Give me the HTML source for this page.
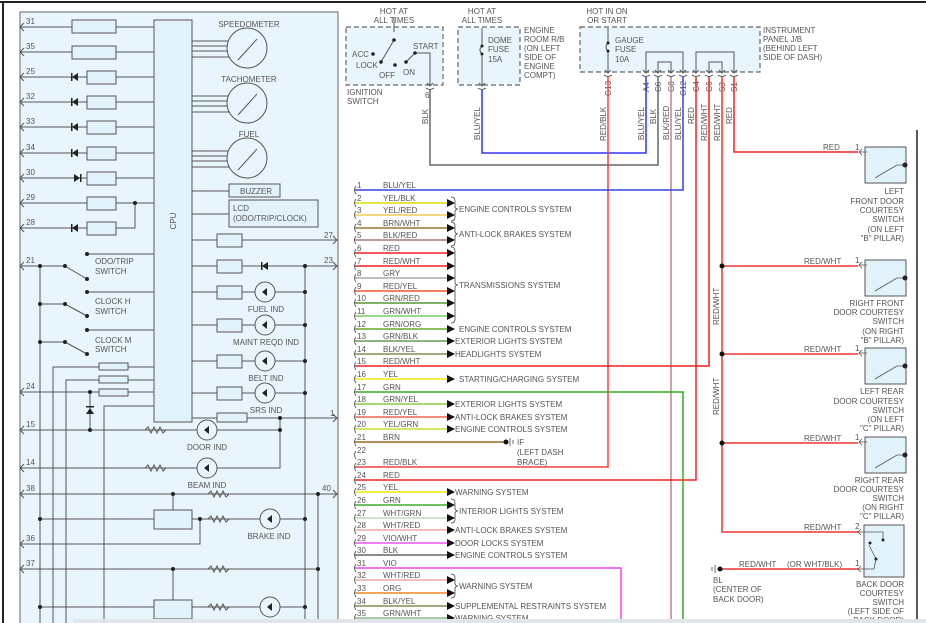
<!DOCTYPE html>
<html><head><meta charset="utf-8"><style>
html,body{margin:0;padding:0;background:#fff;}
svg{display:block;font-family:"Liberation Sans",sans-serif;}
text{font-size:8px;fill:#555;}
</style></head><body>
<svg width="926" height="623" viewBox="0 0 926 623" xmlns="http://www.w3.org/2000/svg">
<!-- borders -->
<line x1="0" y1="2" x2="926" y2="2" stroke="#222" stroke-width="2"/>
<line x1="3" y1="2" x2="3" y2="623" stroke="#222" stroke-width="2"/>
<line x1="917" y1="130" x2="917" y2="623" stroke="#222" stroke-width="1.5"/>
<rect x="20" y="12" width="318" height="615" fill="#e9f5fc" stroke="#666" stroke-width="1"/>

<g stroke="#555" stroke-width="1" fill="none">
<!-- CPU -->
<rect x="154" y="20" width="38" height="402" fill="#e2f2fb"/>
<!-- left rows -->
<line x1="20" y1="27" x2="154" y2="27"/><rect x="72" y="20" width="44" height="13" fill="#e2f2fb"/>
<line x1="20" y1="52" x2="154" y2="52"/><rect x="72" y="46" width="44" height="13" fill="#e2f2fb"/>
<line x1="20" y1="77" x2="154" y2="77"/><rect x="87" y="71" width="29" height="13" fill="#e2f2fb"/>
<line x1="20" y1="102" x2="154" y2="102"/><rect x="87" y="96" width="29" height="13" fill="#e2f2fb"/>
<line x1="20" y1="127" x2="154" y2="127"/><rect x="87" y="121" width="29" height="13" fill="#e2f2fb"/>
<line x1="20" y1="153" x2="154" y2="153"/><rect x="87" y="147" width="29" height="13" fill="#e2f2fb"/>
<line x1="20" y1="178" x2="154" y2="178"/><rect x="87" y="172" width="29" height="13" fill="#e2f2fb"/>
<line x1="20" y1="203" x2="154" y2="203"/><rect x="87" y="197" width="29" height="13" fill="#e2f2fb"/>
<line x1="20" y1="228" x2="87" y2="228"/><rect x="87" y="222" width="29" height="13" fill="#e2f2fb"/>
<polyline points="116,228 135,228 135,203"/>
<!-- gauges -->
<line x1="192" y1="41" x2="230" y2="41"/><line x1="192" y1="46" x2="228" y2="46"/><line x1="192" y1="51" x2="228" y2="51"/><line x1="192" y1="57" x2="230" y2="57"/>
<circle cx="247" cy="48" r="20" fill="#e9f5fc"/><line x1="238" y1="60" x2="257" y2="39"/>
<line x1="192" y1="96" x2="230" y2="96"/><line x1="192" y1="101" x2="228" y2="101"/><line x1="192" y1="106" x2="228" y2="106"/><line x1="192" y1="112" x2="230" y2="112"/>
<circle cx="247" cy="103" r="20" fill="#e9f5fc"/><line x1="238" y1="115" x2="257" y2="94"/>
<line x1="192" y1="151" x2="230" y2="151"/><line x1="192" y1="156" x2="228" y2="156"/><line x1="192" y1="161" x2="228" y2="161"/><line x1="192" y1="167" x2="230" y2="167"/>
<circle cx="247" cy="158" r="20" fill="#e9f5fc"/><line x1="238" y1="170" x2="257" y2="149"/>
<line x1="192" y1="191" x2="229" y2="191"/><rect x="229" y="184" width="51" height="13" fill="#e2f2fb"/>
<line x1="192" y1="214" x2="229" y2="214"/><rect x="229" y="200" width="89" height="27" fill="#e2f2fb"/>
<!-- right rows -->
<line x1="192" y1="240" x2="337" y2="240"/><rect x="217" y="234" width="25" height="13" fill="#e2f2fb"/>
<line x1="192" y1="266" x2="337" y2="266"/><rect x="217" y="260" width="25" height="13" fill="#e2f2fb"/>
<line x1="192" y1="292" x2="305" y2="292"/><rect x="217" y="286" width="25" height="13" fill="#e2f2fb"/><circle cx="265" cy="292" r="10" fill="#e9f5fc"/>
<line x1="192" y1="325" x2="305" y2="325"/><rect x="217" y="319" width="25" height="13" fill="#e2f2fb"/><circle cx="265" cy="325" r="10" fill="#e9f5fc"/>
<line x1="192" y1="361" x2="305" y2="361"/><rect x="217" y="355" width="25" height="13" fill="#e2f2fb"/><circle cx="265" cy="361" r="10" fill="#e9f5fc"/>
<line x1="192" y1="393" x2="305" y2="393"/><rect x="217" y="387" width="25" height="13" fill="#e2f2fb"/><circle cx="265" cy="393" r="10" fill="#e9f5fc"/>
<line x1="305" y1="266" x2="305" y2="623"/>
<line x1="192" y1="418" x2="337" y2="418"/><rect x="217" y="413" width="30" height="9" fill="#e2f2fb"/>
<polyline points="280,418 280,468 20,468"/>
<line x1="20" y1="430" x2="280" y2="430"/>
<circle cx="207" cy="430" r="10" fill="#e9f5fc"/><circle cx="207" cy="468" r="10" fill="#e9f5fc"/>
<line x1="20" y1="494" x2="337" y2="494"/>
<line x1="318" y1="494" x2="318" y2="623"/>
<line x1="173" y1="494" x2="173" y2="510"/>
<rect x="154" y="510" width="38" height="19" fill="#e2f2fb"/>
<line x1="40" y1="519" x2="154" y2="519"/><line x1="192" y1="519" x2="305" y2="519"/>
<circle cx="270" cy="519" r="10" fill="#e9f5fc"/>
<polyline points="20,544 200,544 200,519"/>
<line x1="20" y1="569" x2="318" y2="569"/>
<line x1="173" y1="569" x2="173" y2="600"/>
<rect x="154" y="600" width="38" height="19" fill="#e2f2fb"/>
<line x1="40" y1="607" x2="154" y2="607"/><line x1="192" y1="607" x2="305" y2="607"/>
<circle cx="270" cy="607" r="10" fill="#e9f5fc"/>
<!-- switches left -->
<line x1="20" y1="266" x2="65" y2="266"/><line x1="40" y1="266" x2="40" y2="623"/>
<line x1="87" y1="254" x2="154" y2="254"/><line x1="65" y1="266" x2="87" y2="279"/>
<line x1="40" y1="304" x2="65" y2="304"/><line x1="87" y1="292" x2="154" y2="292"/><line x1="65" y1="304" x2="87" y2="316"/>
<line x1="40" y1="342" x2="65" y2="342"/><line x1="87" y1="330" x2="154" y2="330"/><line x1="65" y1="342" x2="87" y2="354"/>
<polyline points="53,623 53,367 154,367"/><rect x="99" y="363" width="29" height="7" fill="#e2f2fb"/>
<polyline points="66,623 66,380 154,380"/><rect x="99" y="376" width="29" height="7" fill="#e2f2fb"/>
<line x1="20" y1="392" x2="154" y2="392"/><rect x="99" y="389" width="29" height="7" fill="#e2f2fb"/>
<polyline points="104,623 104,406 154,406"/>
<line x1="90" y1="392" x2="90" y2="430"/>
<!-- resistors -->
<polyline points="145,430 148,427 151,433 154,427 157,433 160,427 163,433 166,430"/>
<polyline points="145,468 148,465 151,471 154,465 157,471 160,465 163,471 166,468"/>
<polyline points="208,494 211,491 214,497 217,491 220,497 223,491 226,497 229,494"/>
<polyline points="208,519 211,516 214,522 217,516 220,522 223,516 226,522 229,519"/>
<polyline points="208,569 211,566 214,572 217,566 220,572 223,566 226,572 229,569"/>
<polyline points="208,607 211,604 214,610 217,604 220,610 223,604 226,610 229,607"/>
<!-- arrows on left -->
<path d="M24,23 L20,27 L24,31 M24,48 L20,52 L24,56 M24,73 L20,77 L24,81 M24,98 L20,102 L24,106 M24,123 L20,127 L24,131 M24,149 L20,153 L24,157 M24,174 L20,178 L24,182 M24,199 L20,203 L24,207 M24,224 L20,228 L24,232 M24,262 L20,266 L24,270 M24,388 L20,392 L24,396 M24,426 L20,430 L24,434 M24,464 L20,468 L24,472 M24,490 L20,494 L24,498 M24,540 L20,544 L24,548 M24,565 L20,569 L24,573"/>
<path d="M333,236 L337,240 L333,244 M333,262 L337,266 L333,270 M333,414 L337,418 L333,422 M333,490 L337,494 L333,498"/>
</g>
<!-- diodes -->
<g fill="#222">
<path d="M72,77 l6,-4 v8z M72,102 l6,-4 v8z M72,127 l6,-4 v8z M72,153 l6,-4 v8z M72,228 l6,-4 v8z M80,178 l-6,-4 v8z M262,266 l6,-4 v8z"/>
<rect x="71" y="73" width="1.5" height="8"/><rect x="71" y="98" width="1.5" height="8"/><rect x="71" y="123" width="1.5" height="8"/><rect x="71" y="149" width="1.5" height="8"/><rect x="71" y="224" width="1.5" height="8"/><rect x="80" y="174" width="1.5" height="8"/><rect x="261" y="262" width="1.5" height="8"/>
<path d="M90,408 l-4,6 h8z"/><rect x="86" y="406" width="8" height="1.5"/>
<path d="M262,292 l5,-4 v8z M262,325 l5,-4 v8z M262,361 l5,-4 v8z M262,393 l5,-4 v8z M204,430 l5,-4 v8z M204,468 l5,-4 v8z M267,519 l5,-4 v8z M267,607 l5,-4 v8z"/>
<circle cx="135" cy="203" r="2"/><circle cx="305" cy="266" r="2"/><circle cx="305" cy="292" r="2"/><circle cx="305" cy="325" r="2"/><circle cx="305" cy="361" r="2"/><circle cx="305" cy="393" r="2"/>
<circle cx="280" cy="418" r="2"/><circle cx="280" cy="430" r="2"/><circle cx="90" cy="392" r="2"/><circle cx="90" cy="430" r="2"/>
<circle cx="40" cy="266" r="2"/><circle cx="40" cy="304" r="2"/><circle cx="40" cy="342" r="2"/><circle cx="65" cy="266" r="2"/><circle cx="65" cy="304" r="2"/><circle cx="65" cy="342" r="2"/>
<circle cx="87" cy="254" r="2"/><circle cx="87" cy="279" r="2"/><circle cx="87" cy="292" r="2"/><circle cx="87" cy="316" r="2"/><circle cx="87" cy="330" r="2"/><circle cx="87" cy="354" r="2"/>
<circle cx="173" cy="494" r="2"/><circle cx="318" cy="494" r="2"/><circle cx="40" cy="519" r="2"/><circle cx="200" cy="519" r="2"/><circle cx="305" cy="519" r="2"/>
<circle cx="173" cy="569" r="2"/><circle cx="318" cy="569" r="2"/><circle cx="40" cy="607" r="2"/><circle cx="305" cy="607" r="2"/>
</g>
<!-- left labels -->
<text x="26" y="24">31</text><text x="26" y="49">35</text><text x="26" y="74">25</text><text x="26" y="99">32</text><text x="26" y="124">33</text><text x="26" y="150">34</text><text x="26" y="175">30</text><text x="26" y="200">29</text><text x="26" y="225">28</text><text x="26" y="263">21</text><text x="26" y="389">24</text><text x="26" y="427">15</text><text x="26" y="465">14</text><text x="26" y="491">38</text><text x="26" y="541">36</text><text x="26" y="566">37</text>
<text x="324" y="238">27</text><text x="324" y="263">23</text><text x="330" y="416">1</text><text x="322" y="491">40</text>
<text x="249" y="27" text-anchor="middle">SPEEDOMETER</text><text x="249" y="82" text-anchor="middle">TACHOMETER</text><text x="249" y="137" text-anchor="middle">FUEL</text>
<text x="240" y="194">BUZZER</text><text x="233" y="211">LCD</text><text x="233" y="221">(ODO/TRIP/CLOCK)</text>
<text x="176" y="221" transform="rotate(-90 176 221)" text-anchor="middle">CPU</text>
<text x="95" y="264">ODO/TRIP</text><text x="95" y="274">SWITCH</text>
<text x="95" y="304">CLOCK H</text><text x="95" y="314">SWITCH</text>
<text x="95" y="343">CLOCK M</text><text x="95" y="352">SWITCH</text>
<text x="266" y="312" text-anchor="middle">FUEL IND</text><text x="266" y="345" text-anchor="middle">MAINT REQD IND</text><text x="266" y="381" text-anchor="middle">BELT IND</text><text x="266" y="413" text-anchor="middle">SRS IND</text>
<text x="207" y="450" text-anchor="middle">DOOR IND</text><text x="207" y="488" text-anchor="middle">BEAM IND</text><text x="269" y="539" text-anchor="middle">BRAKE IND</text>

<!-- top boxes -->
<g stroke="#666" stroke-width="1.2" stroke-dasharray="5,3" fill="#e9f5fc">
<rect x="346" y="27" width="97" height="58"/><rect x="458" y="27" width="62" height="58"/><rect x="580" y="27" width="180" height="45"/>
</g>
<g stroke="#555" stroke-width="1" fill="none">
<line x1="394" y1="17" x2="394" y2="32"/><line x1="394" y1="40" x2="381" y2="62"/>
<line x1="406" y1="62" x2="415" y2="53"/><polyline points="415,53 430,53 430,85"/>
<line x1="482" y1="28" x2="482" y2="46"/><path d="M482,46 q-4,4 0,8"/><line x1="482" y1="54" x2="482" y2="85"/>
<line x1="608" y1="28" x2="608" y2="43"/><path d="M608,43 q-4,4 0,8"/><line x1="608" y1="51" x2="608" y2="72"/>
<polyline points="646,72 646,52 683,52 683,72"/><polyline points="658,72 658,62 671,62 671,72"/>
<polyline points="696,72 696,52 734,52 734,72"/><polyline points="709,72 709,62 722,62 722,72"/>
<path d="M427,83 l3,3 l3,-3 M479,83 l3,3 l3,-3 M605,70 l3,3 l3,-3 M643,70 l3,3 l3,-3 M655,70 l3,3 l3,-3 M668,70 l3,3 l3,-3 M680,70 l3,3 l3,-3 M693,70 l3,3 l3,-3 M706,70 l3,3 l3,-3 M719,70 l3,3 l3,-3 M731,70 l3,3 l3,-3"/>
<path d="M426,88 q4,3 8,0 M478,88 q4,3 8,0 M604,75 q4,3 8,0 M642,75 q4,3 8,0 M654,75 q4,3 8,0 M667,75 q4,3 8,0 M679,75 q4,3 8,0 M692,75 q4,3 8,0 M705,75 q4,3 8,0 M718,75 q4,3 8,0 M730,75 q4,3 8,0"/>
</g>
<g fill="#222"><circle cx="394" cy="40" r="1.8"/><circle cx="381" cy="62" r="1.8"/><circle cx="373" cy="54" r="1.8"/><circle cx="395" cy="65" r="1.8"/><circle cx="406" cy="62" r="1.8"/><circle cx="415" cy="53" r="1.8"/><circle cx="482" cy="46" r="1.5"/><circle cx="482" cy="54" r="1.5"/><circle cx="608" cy="43" r="1.5"/><circle cx="608" cy="51" r="1.5"/></g>
<text x="394" y="14" text-anchor="middle">HOT AT</text><text x="394" y="23" text-anchor="middle">ALL TIMES</text>
<text x="482" y="14" text-anchor="middle">HOT AT</text><text x="482" y="23" text-anchor="middle">ALL TIMES</text>
<text x="607" y="14" text-anchor="middle">HOT IN ON</text><text x="607" y="23" text-anchor="middle">OR START</text>
<text x="352" y="57">ACC</text><text x="356" y="68">LOCK</text><text x="379" y="78">OFF</text><text x="403" y="75">ON</text><text x="413" y="49">START</text>
<text x="347" y="95">IGNITION</text><text x="347" y="104">SWITCH</text><text x="425" y="98">6</text>
<text x="488" y="43">DOME</text><text x="488" y="52">FUSE</text><text x="488" y="62">15A</text>
<text x="524" y="33">ENGINE</text><text x="524" y="42">ROOM R/B</text><text x="524" y="51">(ON LEFT</text><text x="524" y="60">SIDE OF</text><text x="524" y="69">ENGINE</text><text x="524" y="78">COMPT)</text>
<text x="615" y="43">GAUGE</text><text x="615" y="52">FUSE</text><text x="615" y="62">10A</text>
<text x="763" y="33">INSTRUMENT</text><text x="763" y="42">PANEL J/B</text><text x="763" y="51">(BEHIND LEFT</text><text x="763" y="60">SIDE OF DASH)</text>
<g font-size="8">
<text transform="translate(611,96) rotate(-90)">G13</text><text transform="translate(649,92) rotate(-90)">A4</text><text transform="translate(661,92) rotate(-90)">C6</text><text transform="translate(674,92) rotate(-90)">G8</text><text transform="translate(686,96) rotate(-90)">G12</text><text transform="translate(699,92) rotate(-90)">G4</text><text transform="translate(712,92) rotate(-90)">G6</text><text transform="translate(725,92) rotate(-90)">S3</text><text transform="translate(737,92) rotate(-90)">S1</text>
<text transform="translate(428,124) rotate(-90)">BLK</text><text transform="translate(480,140) rotate(-90)">BLU/YEL</text>
<text transform="translate(606,141) rotate(-90)">RED/BLK</text><text transform="translate(644,140) rotate(-90)">BLU/YEL</text><text transform="translate(656,124) rotate(-90)">BLK</text><text transform="translate(669,140) rotate(-90)">BLK/RED</text><text transform="translate(681,140) rotate(-90)">BLU/YEL</text><text transform="translate(694,124) rotate(-90)">RED</text><text transform="translate(707,141) rotate(-90)">RED/WHT</text><text transform="translate(720,141) rotate(-90)">RED/WHT</text><text transform="translate(732,124) rotate(-90)">RED</text>
<text transform="translate(719,325) rotate(-90)">RED/WHT</text><text transform="translate(719,415) rotate(-90)">RED/WHT</text>
</g>

<!-- vertical wires -->
<g fill="none" stroke-width="1.5">
<polyline points="430,90 430,165 658,165 658,77" stroke="#666"/>
<polyline points="482,90 482,153 646,153 646,77" stroke="#3333ee"/>
<polyline points="734,77 734,152 858,152" stroke="#ee2222"/>
<polyline points="608,77 608,467 355,467" stroke="#ee4444"/>
<line x1="671" y1="77" x2="671" y2="623" stroke="#bb8888"/>
<polyline points="683,77 683,190 355,190" stroke="#3344dd"/>
<polyline points="696,77 696,480 355,480" stroke="#ee2222"/>
<polyline points="709,77 709,366 355,366" stroke="#ee2222"/>
<polyline points="722,77 722,532 858,532" stroke="#ee3333"/>
<polyline points="355,392 683,392 683,623" stroke="#33aa22"/>
<polyline points="355,568 621,568 621,623" stroke="#ee44ee"/>
<line x1="722" y1="266" x2="858" y2="266" stroke="#ee3333"/>
<line x1="722" y1="354" x2="858" y2="354" stroke="#ee3333"/>
<line x1="722" y1="443" x2="858" y2="443" stroke="#ee3333"/>
<line x1="720" y1="569" x2="858" y2="569" stroke="#ee3333"/>
<!-- row wires -->
<line x1="355" y1="203" x2="447" y2="203" stroke="#dddd00"/>
<line x1="355" y1="215" x2="447" y2="215" stroke="#eecc55"/>
<line x1="355" y1="228" x2="447" y2="228" stroke="#997733"/>
<line x1="355" y1="240" x2="447" y2="240" stroke="#aa7777"/>
<line x1="355" y1="253" x2="447" y2="253" stroke="#ee2222"/>
<line x1="355" y1="266" x2="447" y2="266" stroke="#ee2222"/>
<line x1="355" y1="278" x2="447" y2="278" stroke="#aaaaaa"/>
<line x1="355" y1="291" x2="447" y2="291" stroke="#ee5533"/>
<line x1="355" y1="303" x2="447" y2="303" stroke="#559933"/>
<line x1="355" y1="316" x2="447" y2="316" stroke="#77cc66"/>
<line x1="355" y1="329" x2="447" y2="329" stroke="#66aa22"/>
<line x1="355" y1="341" x2="447" y2="341" stroke="#669955"/>
<line x1="355" y1="354" x2="447" y2="354" stroke="#888855"/>
<line x1="355" y1="379" x2="447" y2="379" stroke="#eeee00"/>
<line x1="355" y1="404" x2="447" y2="404" stroke="#88cc44"/>
<line x1="355" y1="417" x2="447" y2="417" stroke="#ee6655"/>
<line x1="355" y1="429" x2="447" y2="429" stroke="#ccdd33"/>
<line x1="355" y1="442" x2="505" y2="442" stroke="#996622"/>
<line x1="355" y1="492" x2="447" y2="492" stroke="#eeee00"/>
<line x1="355" y1="505" x2="447" y2="505" stroke="#44aa33"/>
<line x1="355" y1="518" x2="447" y2="518" stroke="#bbddbb"/>
<line x1="355" y1="530" x2="447" y2="530" stroke="#eeaaaa"/>
<line x1="355" y1="543" x2="447" y2="543" stroke="#ee55ee"/>
<line x1="355" y1="555" x2="447" y2="555" stroke="#666666"/>
<line x1="355" y1="580" x2="447" y2="580" stroke="#eeaaaa"/>
<line x1="355" y1="593" x2="447" y2="593" stroke="#ee8822"/>
<line x1="355" y1="606" x2="447" y2="606" stroke="#888855"/>
<line x1="355" y1="618" x2="447" y2="618" stroke="#88bb88"/>
</g>
<!-- arrowheads -->
<g fill="#111">
<path d="M447,199 l8,4 l-8,4z M447,211 l8,4 l-8,4z M447,224 l8,4 l-8,4z M447,236 l8,4 l-8,4z M447,249 l8,4 l-8,4z M447,262 l8,4 l-8,4z M447,274 l8,4 l-8,4z M447,287 l8,4 l-8,4z M447,299 l8,4 l-8,4z M447,312 l8,4 l-8,4z M447,325 l8,4 l-8,4z M447,337 l8,4 l-8,4z M447,350 l8,4 l-8,4z M447,375 l8,4 l-8,4z M447,400 l8,4 l-8,4z M447,413 l8,4 l-8,4z M447,425 l8,4 l-8,4z M447,488 l8,4 l-8,4z M447,501 l8,4 l-8,4z M447,514 l8,4 l-8,4z M447,526 l8,4 l-8,4z M447,539 l8,4 l-8,4z M447,551 l8,4 l-8,4z M447,576 l8,4 l-8,4z M447,589 l8,4 l-8,4z M447,602 l8,4 l-8,4z M447,614 l8,4 l-8,4z"/>
<circle cx="506" cy="442" r="2.5"/><circle cx="720" cy="569" r="2.5"/>
<circle cx="722" cy="266" r="2.5"/><circle cx="722" cy="354" r="2.5"/><circle cx="722" cy="443" r="2.5"/>
</g>
<g stroke="#444" fill="none" stroke-width="0.8">
<path d="M510,438 v8 M513,440 v4 M715,565 v8 M712,567 v4"/>
<!-- connector hooks -->
<path d="M356,186 q-3,4 0,8 M356,199 q-3,4 0,8 M356,211 q-3,4 0,8 M356,224 q-3,4 0,8 M356,236 q-3,4 0,8 M356,249 q-3,4 0,8 M356,262 q-3,4 0,8 M356,274 q-3,4 0,8 M356,287 q-3,4 0,8 M356,299 q-3,4 0,8 M356,312 q-3,4 0,8 M356,325 q-3,4 0,8 M356,337 q-3,4 0,8 M356,350 q-3,4 0,8 M356,362 q-3,4 0,8 M356,375 q-3,4 0,8 M356,388 q-3,4 0,8 M356,400 q-3,4 0,8 M356,413 q-3,4 0,8 M356,425 q-3,4 0,8 M356,438 q-3,4 0,8 M356,451 q-3,4 0,8 M356,463 q-3,4 0,8 M356,476 q-3,4 0,8 M356,488 q-3,4 0,8 M356,501 q-3,4 0,8 M356,514 q-3,4 0,8 M356,526 q-3,4 0,8 M356,539 q-3,4 0,8 M356,551 q-3,4 0,8 M356,564 q-3,4 0,8 M356,576 q-3,4 0,8 M356,589 q-3,4 0,8 M356,602 q-3,4 0,8 M356,614 q-3,4 0,8"/>
<!-- braces -->
<path d="M451,197 q4,0 4,4 v5 q0,3 3,3 q-3,0 -3,3 v5 q0,4 -4,4"/>
<path d="M451,222 q4,0 4,4 v5 q0,3 3,3 q-3,0 -3,3 v5 q0,4 -4,4"/>
<path d="M451,247 q4,0 4,4 v31 q0,3 3,3 q-3,0 -3,3 v31 q0,4 -4,4"/>
<path d="M451,499 q4,0 4,4 v5 q0,3 3,3 q-3,0 -3,3 v5 q0,4 -4,4"/>
<path d="M451,574 q4,0 4,4 v5 q0,3 3,3 q-3,0 -3,3 v5 q0,4 -4,4"/>
</g>
<!-- row labels -->
<g>
<text x="357" y="188">1</text><text x="383" y="188">BLU/YEL</text>
<text x="357" y="201">2</text><text x="383" y="201">YEL/BLK</text>
<text x="357" y="213">3</text><text x="383" y="213">YEL/RED</text>
<text x="357" y="226">4</text><text x="383" y="226">BRN/WHT</text>
<text x="357" y="238">5</text><text x="383" y="238">BLK/RED</text>
<text x="357" y="251">6</text><text x="383" y="251">RED</text>
<text x="357" y="264">7</text><text x="383" y="264">RED/WHT</text>
<text x="357" y="276">8</text><text x="383" y="276">GRY</text>
<text x="357" y="289">9</text><text x="383" y="289">RED/YEL</text>
<text x="357" y="301">10</text><text x="383" y="301">GRN/RED</text>
<text x="357" y="314">11</text><text x="383" y="314">GRN/WHT</text>
<text x="357" y="327">12</text><text x="383" y="327">GRN/ORG</text>
<text x="357" y="339">13</text><text x="383" y="339">GRN/BLK</text>
<text x="357" y="352">14</text><text x="383" y="352">BLK/YEL</text>
<text x="357" y="364">15</text><text x="383" y="364">RED/WHT</text>
<text x="357" y="377">16</text><text x="383" y="377">YEL</text>
<text x="357" y="390">17</text><text x="383" y="390">GRN</text>
<text x="357" y="402">18</text><text x="383" y="402">GRN/YEL</text>
<text x="357" y="415">19</text><text x="383" y="415">RED/YEL</text>
<text x="357" y="427">20</text><text x="383" y="427">YEL/GRN</text>
<text x="357" y="440">21</text><text x="383" y="440">BRN</text>
<text x="357" y="453">22</text>
<text x="357" y="465">23</text><text x="383" y="465">RED/BLK</text>
<text x="357" y="478">24</text><text x="383" y="478">RED</text>
<text x="357" y="490">25</text><text x="383" y="490">YEL</text>
<text x="357" y="503">26</text><text x="383" y="503">GRN</text>
<text x="357" y="516">27</text><text x="383" y="516">WHT/GRN</text>
<text x="357" y="528">28</text><text x="383" y="528">WHT/RED</text>
<text x="357" y="541">29</text><text x="383" y="541">VIO/WHT</text>
<text x="357" y="553">30</text><text x="383" y="553">BLK</text>
<text x="357" y="566">31</text><text x="383" y="566">VIO</text>
<text x="357" y="578">32</text><text x="383" y="578">WHT/RED</text>
<text x="357" y="591">33</text><text x="383" y="591">ORG</text>
<text x="357" y="604">34</text><text x="383" y="604">BLK/YEL</text>
<text x="357" y="616">35</text><text x="383" y="616">GRN/WHT</text>
<text x="459" y="212">ENGINE CONTROLS SYSTEM</text>
<text x="459" y="237">ANTI-LOCK BRAKES SYSTEM</text>
<text x="459" y="288">TRANSMISSIONS SYSTEM</text>
<text x="459" y="332">ENGINE CONTROLS SYSTEM</text>
<text x="455" y="344">EXTERIOR LIGHTS SYSTEM</text>
<text x="455" y="357">HEADLIGHTS SYSTEM</text>
<text x="459" y="382">STARTING/CHARGING SYSTEM</text>
<text x="455" y="407">EXTERIOR LIGHTS SYSTEM</text>
<text x="455" y="420">ANTI-LOCK BRAKES SYSTEM</text>
<text x="455" y="432">ENGINE CONTROLS SYSTEM</text>
<text x="517" y="445">IF</text><text x="517" y="455">(LEFT DASH</text><text x="517" y="465">BRACE)</text>
<text x="455" y="495">WARNING SYSTEM</text>
<text x="459" y="514">INTERIOR LIGHTS SYSTEM</text>
<text x="455" y="533">ANTI-LOCK BRAKES SYSTEM</text>
<text x="455" y="546">DOOR LOCKS SYSTEM</text>
<text x="455" y="558">ENGINE CONTROLS SYSTEM</text>
<text x="459" y="589">WARNING SYSTEM</text>
<text x="455" y="609">SUPPLEMENTAL RESTRAINTS SYSTEM</text>
<text x="455" y="621">WARNING SYSTEM</text>
</g>
<!-- door switches -->
<g stroke="#555" stroke-width="1" fill="#e2f2fb">
<rect x="865" y="147" width="41" height="36"/><rect x="865" y="260" width="41" height="36"/><rect x="865" y="348" width="41" height="36"/><rect x="865" y="437" width="41" height="36"/><rect x="864" y="525" width="40" height="52"/>
</g>
<g stroke="#555" stroke-width="0.8" fill="none">
<path d="M862,149 l-3,3 l3,3 M859,152 h8 M875,178 l22,-13 h8 M862,262 l-3,3 l3,3 M859,265 h8 M875,291 l22,-13 h8 M862,350 l-3,3 l3,3 M859,353 h8 M875,379 l22,-13 h8 M862,439 l-3,3 l3,3 M859,442 h8 M875,468 l22,-13 h8"/>
<path d="M861,529 l-3,3 l3,3 M858,532 h25 v8 M861,566 l-3,3 l3,3 M858,569 h16 l2,-10 l-7,-14"/>
</g>
<g fill="#222"><circle cx="905" cy="165" r="2.5"/><circle cx="905" cy="278" r="2.5"/><circle cx="905" cy="366" r="2.5"/><circle cx="905" cy="455" r="2.5"/><circle cx="870" cy="543" r="1.5"/><circle cx="883" cy="540" r="1.5"/><circle cx="876" cy="559" r="1.5"/></g>
<text x="823" y="150">RED</text><text x="855" y="150">1</text>
<text x="804" y="264">RED/WHT</text><text x="855" y="263">1</text>
<text x="804" y="352">RED/WHT</text><text x="855" y="351">1</text>
<text x="804" y="441">RED/WHT</text><text x="855" y="440">1</text>
<text x="804" y="530">RED/WHT</text><text x="855" y="529">2</text>
<text x="739" y="567">RED/WHT</text><text x="787" y="567">(OR WHT/BLK)</text><text x="855" y="566">1</text>
<text x="713" y="583">BL</text><text x="713" y="592">(CENTER OF</text><text x="713" y="602">BACK DOOR)</text>
<g text-anchor="end">
<text x="904" y="194">LEFT</text><text x="904" y="204">FRONT DOOR</text><text x="904" y="213">COURTESY</text><text x="904" y="222">SWITCH</text><text x="904" y="232">(ON LEFT</text><text x="904" y="241">"B" PILLAR)</text>
<text x="904" y="306">RIGHT FRONT</text><text x="904" y="315">DOOR COURTESY</text><text x="904" y="324">SWITCH</text><text x="904" y="334">(ON RIGHT</text><text x="904" y="343">"B" PILLAR)</text>
<text x="904" y="394">LEFT REAR</text><text x="904" y="404">DOOR COURTESY</text><text x="904" y="413">SWITCH</text><text x="904" y="422">(ON LEFT</text><text x="904" y="431">"C" PILLAR)</text>
<text x="904" y="483">RIGHT REAR</text><text x="904" y="492">DOOR COURTESY</text><text x="904" y="501">SWITCH</text><text x="904" y="510">(ON RIGHT</text><text x="904" y="519">"C" PILLAR)</text>
<text x="904" y="587">BACK DOOR</text><text x="904" y="596">COURTESY</text><text x="904" y="605">SWITCH</text><text x="904" y="614">(LEFT SIDE OF</text><text x="904" y="623">BACK DOOR)</text>
</g>
<rect x="73" y="619" width="853" height="4" fill="#dfe5ea"/>
</svg>
</body></html>
